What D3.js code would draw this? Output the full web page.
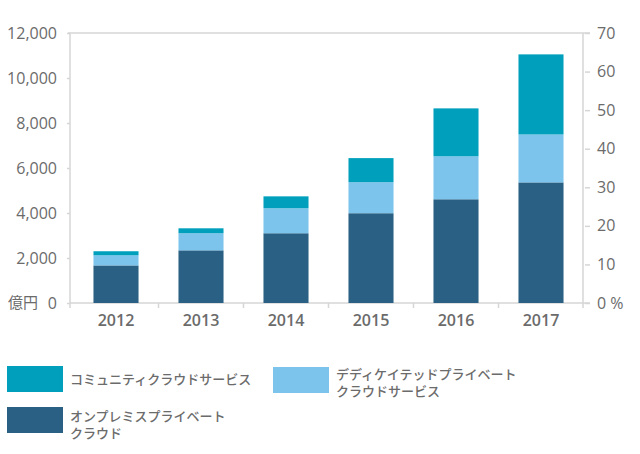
<!DOCTYPE html>
<html lang="ja">
<head>
    <meta charset="UTF-8">
    <title>クラウドサービス市場規模</title>
    <style>
        body {
            margin: 0;
            background: #fff;
            font-family: "Open Sans", "Noto Sans CJK JP", sans-serif;
        }
        .axis text {
            fill: #6b6b6b;
            font-size: 16px;
            font-family: "Open Sans", "Noto Sans CJK JP", sans-serif;
        }
        .axis path, .axis line {
            stroke: #d6d6d6;
            stroke-width: 1.5;
        }
        .legend text {
            fill: #6b6b6b;
            font-size: 13px;
            font-weight: 500;
            font-family: "Noto Sans CJK JP", sans-serif;
        }
    </style>
    <script src="https://d3js.org/d3.v7.min.js"></script>
</head>
<body>
<div id="chart"></div>
<script>
    const years = ["2012", "2013", "2014", "2015", "2016", "2017"];
    // 億円
    const onPremise = [1670, 2340, 3100, 3990, 4610, 5360];
    const dedicated = [450, 760, 1110, 1380, 1910, 2130];
    const community = [180, 220, 530, 1070, 2130, 3560];

    const leftTicks = [0, 2000, 4000, 6000, 8000, 10000, 12000];
    const rightTicks = [0, 10, 20, 30, 40, 50, 60, 70];

    const seriesKeys = ["onPremise", "dedicated", "community"];
    const seriesLabels = {
        community: ["コミュニティクラウドサービス"],
        dedicated: ["デディケイテッドプライベート", "クラウドサービス"],
        onPremise: ["オンプレミスプライベート", "クラウド"]
    };
    const colors = {
        onPremise: "#296084",
        dedicated: "#7dc4ed",
        community: "#00a0bd"
    };

    const W = 640, H = 454;
    const plotLeft = 70, plotRight = 583, plotTop = 33, plotBottom = 303;

    const svg = d3.select("#chart").append("svg")
        .attr("width", W)
        .attr("height", H);

    const x = d3.scaleBand().domain(years).range([73.5, 583.5])
        .paddingInner(0.47).paddingOuter(0.235);
    const y = d3.scaleLinear().domain([0, 12000]).range([plotBottom, plotTop]);
    const y2 = d3.scaleLinear().domain([0, 70]).range([plotBottom, plotTop]);

    const table = years.map((yr, i) => ({
        year: yr,
        onPremise: onPremise[i],
        dedicated: dedicated[i],
        community: community[i]
    }));
    const stacked = d3.stack().keys(seriesKeys)(table);

    // top border line
    svg.append("line")
        .attr("x1", plotLeft - 2).attr("x2", plotRight + 7)
        .attr("y1", plotTop).attr("y2", plotTop)
        .attr("stroke", "#d6d6d6").attr("stroke-width", 1.5);

    // left axis
    const gLeft = svg.append("g").attr("class", "axis")
        .attr("transform", `translate(${plotLeft},0)`)
        .call(d3.axisLeft(y).tickValues(leftTicks).tickSize(3).tickSizeOuter(0)
            .tickPadding(10).tickFormat(d3.format(",")));
    gLeft.select(".domain").attr("d", `M0,${plotTop}V${plotBottom + 5}`);

    svg.append("text")
        .attr("x", 8).attr("y", plotBottom)
        .attr("dy", "0.35em")
        .attr("fill", "#6b6b6b")
        .attr("font-size", 15)
        .attr("font-family", "Noto Sans CJK JP, sans-serif")
        .text("億円");

    // right axis
    const gRight = svg.append("g").attr("class", "axis")
        .attr("transform", `translate(${plotRight},0)`)
        .call(d3.axisRight(y2).tickValues(rightTicks).tickSize(7).tickSizeOuter(0)
            .tickPadding(7).tickFormat(d => d === 0 ? "0 %" : d));
    gRight.select(".domain").attr("d", `M0,${plotTop}V${plotBottom + 5}`);
    gRight.selectAll(".tick line").attr("x1", 2);

    // bottom axis
    const gBottom = svg.append("g").attr("class", "axis")
        .attr("transform", `translate(0,${plotBottom})`)
        .call(d3.axisBottom(x).tickSize(0).tickPadding(12));
    gBottom.select(".domain").attr("d", `M${plotLeft},0H${plotRight + 7}`);
    gBottom.selectAll(".tick text").attr("font-weight", 600);

    const gap = x.step() - x.bandwidth();
    gBottom.selectAll(".sep")
        .data(years.slice(1))
        .enter().append("line")
        .attr("class", "sep")
        .attr("x1", d => x(d) - gap / 2)
        .attr("x2", d => x(d) - gap / 2)
        .attr("y1", 0).attr("y2", 5);

    // bars
    svg.append("g").selectAll("g")
        .data(stacked)
        .enter().append("g")
        .attr("fill", d => colors[d.key])
        .selectAll("rect")
        .data(d => d)
        .enter().append("rect")
        .attr("x", d => x(d.data.year))
        .attr("width", x.bandwidth())
        .attr("y", d => y(d[1]))
        .attr("height", d => y(d[0]) - y(d[1]));

    // legend
    const legendItems = [
        {key: "community", x: 7, y: 366, ty: 13},
        {key: "dedicated", x: 273, y: 367, ty: 7},
        {key: "onPremise", x: 7, y: 407, ty: 9}
    ];
    const legend = svg.append("g").attr("class", "legend");
    const li = legend.selectAll("g")
        .data(legendItems)
        .enter().append("g")
        .attr("transform", d => `translate(${d.x},${d.y})`);
    li.append("rect")
        .attr("width", 56).attr("height", 26)
        .attr("fill", d => colors[d.key]);
    li.append("text")
        .attr("x", 63)
        .attr("y", d => d.ty)
        .selectAll("tspan")
        .data(d => seriesLabels[d.key])
        .enter().append("tspan")
        .attr("x", 63)
        .attr("dy", (d, i) => i === 0 ? "0.35em" : "1.35em")
        .text(d => d);
</script>
</body>
</html>
